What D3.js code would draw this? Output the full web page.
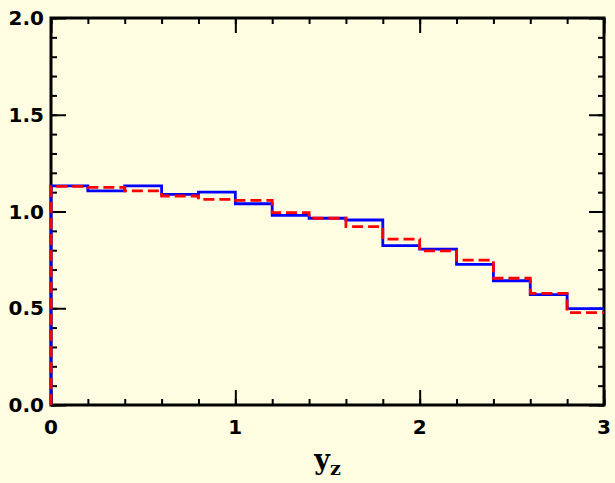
<!DOCTYPE html>
<html>
<head>
<meta charset="utf-8">
<script src="https://cdn.jsdelivr.net/npm/d3@7"></script>
<style>
  html, body { margin: 0; padding: 0; background: #fffde1; }
  svg { display: block; }
</style>
</head>
<body>
<div id="chart"></div>
<script>
// bin edges along y_z (left edge of each bin, width 0.2)
const binEdges = [0, 0.2, 0.4, 0.6, 0.8, 1.0, 1.2, 1.4, 1.6, 1.8, 2.0, 2.2, 2.4, 2.6, 2.8];
const binEnd = 3.0;
// blue solid histogram
const blueValues = [1.132, 1.107, 1.132, 1.089, 1.100, 1.040, 0.980, 0.965, 0.956, 0.824, 0.806, 0.727, 0.642, 0.570, 0.498];
// red dashed histogram
const redValues = [1.130, 1.125, 1.107, 1.080, 1.063, 1.058, 0.994, 0.965, 0.922, 0.857, 0.797, 0.749, 0.655, 0.577, 0.477];
const xMajorTicks = [0, 1, 2, 3];
const yMajorTicks = [0.0, 0.5, 1.0, 1.5, 2.0];

const width = 615, height = 483;
const margin = { left: 51, right: 11, top: 18, bottom: 78 };

const svg = d3.select('#chart').append('svg')
    .attr('width', width)
    .attr('height', height);

svg.append('rect')
    .attr('width', width).attr('height', height)
    .attr('fill', '#fffde1');

const x = d3.scaleLinear().domain([0, 3]).range([margin.left, width - margin.right]);
const y = d3.scaleLinear().domain([0, 2]).range([height - margin.bottom, margin.top]);

const x0 = x.range()[0], x1 = x.range()[1];
const y0 = y.range()[0], y1 = y.range()[1];

// Ticks (inward, on all four sides)
const tickStyle = g => g.select('.domain').remove();
const xMinor = d3.range(0, 3.0001, 0.2);
const yMinor = d3.range(0, 2.0001, 0.1);

function addTicks(axis, transform) {
    svg.append('g')
        .attr('transform', transform)
        .call(axis)
        .call(tickStyle)
        .call(g => g.selectAll('line').attr('stroke', '#000').attr('stroke-width', 2))
        .call(g => g.selectAll('text').remove());
}
// bottom / top
addTicks(d3.axisTop(x).tickValues(xMinor).tickSize(6), `translate(0,${y0})`);
addTicks(d3.axisTop(x).tickValues(xMajorTicks).tickSize(15), `translate(0,${y0})`);
addTicks(d3.axisBottom(x).tickValues(xMinor).tickSize(6), `translate(0,${y1})`);
addTicks(d3.axisBottom(x).tickValues(xMajorTicks).tickSize(15), `translate(0,${y1})`);
// left / right
addTicks(d3.axisRight(y).tickValues(yMinor).tickSize(6), `translate(${x0},0)`);
addTicks(d3.axisRight(y).tickValues(yMajorTicks).tickSize(15), `translate(${x0},0)`);
addTicks(d3.axisLeft(y).tickValues(yMinor).tickSize(6), `translate(${x1},0)`);
addTicks(d3.axisLeft(y).tickValues(yMajorTicks).tickSize(15), `translate(${x1},0)`);

// Frame
svg.append('rect')
    .attr('x', x0).attr('y', y1)
    .attr('width', x1 - x0).attr('height', y0 - y1)
    .attr('fill', 'none')
    .attr('stroke', '#000')
    .attr('stroke-width', 3);

// Tick labels
const labelFont = "'DejaVu Sans', sans-serif";
svg.append('g').selectAll('text')
    .data(yMajorTicks)
    .join('text')
    .attr('x', x0 - 7)
    .attr('y', d => y(d) + 7)
    .attr('text-anchor', 'end')
    .attr('font-family', labelFont)
    .attr('font-weight', 'bold')
    .attr('font-size', 20)
    .text(d => d3.format('.1f')(d));

svg.append('g').selectAll('text')
    .data(xMajorTicks)
    .join('text')
    .attr('x', d => x(d))
    .attr('y', y0 + 29)
    .attr('text-anchor', 'middle')
    .attr('font-family', labelFont)
    .attr('font-weight', 'bold')
    .attr('font-size', 20)
    .text(d => d);

// Histograms as step lines
function stepPoints(values) {
    const pts = [[0, 0]];
    values.forEach((v, i) => pts.push([binEdges[i], v]));
    pts.push([binEnd, values[values.length - 1]]);
    return pts;
}
const line = d3.line()
    .x(d => x(d[0]))
    .y(d => y(d[1]))
    .curve(d3.curveStepAfter);

svg.append('path')
    .datum(stepPoints(blueValues))
    .attr('fill', 'none')
    .attr('stroke', '#0000ff')
    .attr('stroke-width', 2.8)
    .attr('d', line);

svg.append('path')
    .datum(stepPoints(redValues))
    .attr('fill', 'none')
    .attr('stroke', '#ff0000')
    .attr('stroke-width', 2.8)
    .attr('stroke-dasharray', '11,5')
    .attr('d', line);

// Axis title y_z
const title = svg.append('text')
    .attr('x', (x0 + x1) / 2)
    .attr('y', 469)
    .attr('text-anchor', 'middle')
    .attr('font-family', "'DejaVu Serif', serif")
    .attr('font-weight', 'bold')
    .attr('font-size', 27);
title.append('tspan').text('y');
title.append('tspan').attr('font-size', 19).attr('dy', 6).text('z');
</script>
</body>
</html>
